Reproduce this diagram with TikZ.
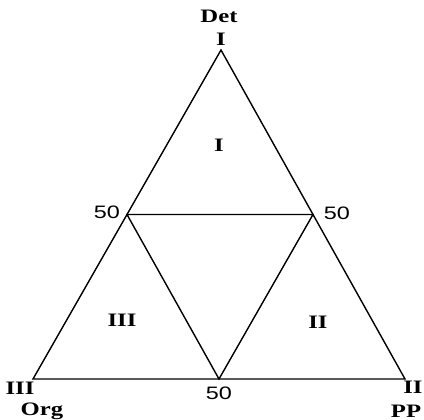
\documentclass[tikz,border=0pt]{standalone}
\usepackage{fontspec}
\newfontfamily\lblfont[FakeStretch=1.3]{Liberation Serif}
\newfontfamily\numfont[FakeStretch=1.3]{Liberation Sans}
\usetikzlibrary{calc}

\begin{document}
\begin{tikzpicture}[x=1pt, y=-1pt, line width=1.4pt,
    lbl/.style={font=\lblfont\bfseries\fontsize{19}{19}\selectfont, inner sep=0pt},
    num/.style={font=\numfont\fontsize{18}{18}\selectfont, inner sep=0pt}]
  \useasboundingbox (0,0) rectangle (424,420);
  \coordinate (top) at (221,50);
  \coordinate (org) at (33,379);
  \coordinate (pp)  at (405,379);
  \coordinate (ml) at ($(top)!.5!(org)$);
  \coordinate (mr) at ($(top)!.5!(pp)$);
  \coordinate (mb) at ($(org)!.5!(pp)$);
  \draw (top) -- (org) -- (pp) -- cycle;
  \draw (ml) -- (mr) -- (mb) -- cycle;
  % corner labels
  \node[lbl] (det)  at (219,16)  {Det};
  \node[lbl] (ctop) at (221,39)  {I};
  \node[lbl] (cl)   at (20,388)  {III};
  \node[lbl] (orgl) at (42,411)  {Org};
  \node[lbl] (cr)   at (413,387) {II};
  \node[lbl] (ppl)  at (406,411) {PP};
  % 50 marks
  \node[num] (nl) at (107,212) {50};
  \node[num] (nr) at (337,213) {50};
  \node[num] (nb) at (219,393) {50};
  % regions
  \node[lbl] (ri)   at (219,145) {I};
  \node[lbl] (riii) at (122,320) {III};
  \node[lbl] (rii)  at (318,322) {II};
\end{tikzpicture}
\end{document}
